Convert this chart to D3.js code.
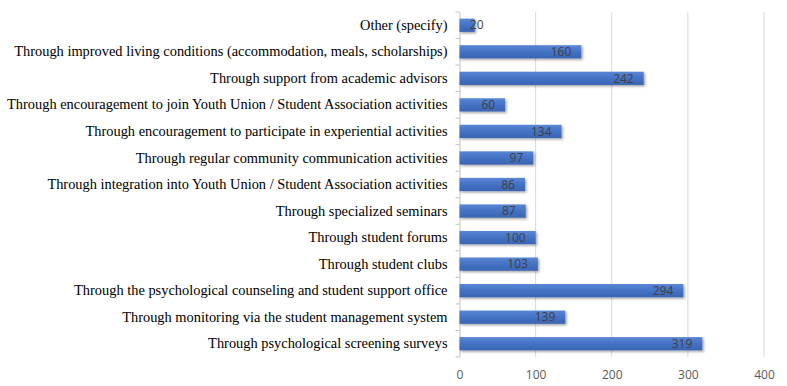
<!DOCTYPE html>
<html>
<head>
<meta charset="utf-8">
<script src="https://cdn.jsdelivr.net/npm/d3@7"></script>
<style>
  body { margin: 0; background: #fff; }
  svg { display: block; }
</style>
</head>
<body>
<div id="chart"></div>
<script>
var categories = [
    "Other (specify)",
    "Through improved living conditions (accommodation, meals, scholarships)",
    "Through support from academic advisors",
    "Through encouragement to join Youth Union / Student Association activities",
    "Through encouragement to participate in experiential activities",
    "Through regular community communication activities",
    "Through integration into Youth Union / Student Association activities",
    "Through specialized seminars",
    "Through student forums",
    "Through student clubs",
    "Through the psychological counseling and student support office",
    "Through monitoring via the student management system",
    "Through psychological screening surveys"
];
var values = [20, 160, 242, 60, 134, 97, 86, 87, 100, 103, 294, 139, 319];
var xTicks = [0, 100, 200, 300, 400];

var width = 787, height = 386;
var margin = { top: 12, right: 23, bottom: 29, left: 459.5 };

var svg = d3.select("#chart").append("svg")
    .attr("width", width)
    .attr("height", height);

var defs = svg.append("defs");
var shadow = defs.append("filter").attr("id", "shadow")
    .attr("x", "-10%").attr("y", "-30%").attr("width", "130%").attr("height", "190%");
shadow.append("feDropShadow")
    .attr("dx", 1.5).attr("dy", 1.5).attr("stdDeviation", 1.2)
    .attr("flood-color", "#000").attr("flood-opacity", 0.35);

var grad = defs.append("linearGradient").attr("id", "barGrad")
    .attr("x1", 0).attr("y1", 0).attr("x2", 0).attr("y2", 1);
grad.append("stop").attr("offset", "0%").attr("stop-color", "#5a86d6");
grad.append("stop").attr("offset", "50%").attr("stop-color", "#4472c4");
grad.append("stop").attr("offset", "100%").attr("stop-color", "#3a64b3");

var x = d3.scaleLinear()
    .domain([0, 400])
    .range([margin.left, width - margin.right]);

var y = d3.scaleBand()
    .domain(categories)
    .range([margin.top, height - margin.bottom])
    .paddingInner(0.5)
    .paddingOuter(0.25);

// gridlines
svg.append("g")
    .selectAll("line")
    .data(xTicks.slice(1))
    .join("line")
    .attr("x1", function(d) { return x(d); })
    .attr("x2", function(d) { return x(d); })
    .attr("y1", margin.top)
    .attr("y2", height - margin.bottom)
    .attr("stroke", "#d9d9d9")
    .attr("stroke-width", 1);

// category axis
var yAxis = svg.append("g")
    .attr("transform", "translate(" + margin.left + ",0)")
    .call(d3.axisLeft(y).tickSize(0).tickPadding(12));
yAxis.select(".domain").attr("stroke", "#bfbfbf");
yAxis.selectAll("text")
    .attr("font-family", "'Liberation Serif', 'Times New Roman', serif")
    .attr("font-size", "14.4px")
    .attr("fill", "#000");

// small ticks between categories
var step = y.step();
svg.append("g")
    .selectAll("line")
    .data(d3.range(categories.length + 1))
    .join("line")
    .attr("x1", margin.left - 4)
    .attr("x2", margin.left)
    .attr("y1", function(i) { return y(categories[0]) - y.step() * y.paddingInner() / 2 + i * step; })
    .attr("y2", function(i) { return y(categories[0]) - y.step() * y.paddingInner() / 2 + i * step; })
    .attr("stroke", "#bfbfbf");

// value axis labels
var xAxis = svg.append("g")
    .attr("transform", "translate(0," + (height - margin.bottom) + ")")
    .call(d3.axisBottom(x).tickValues(xTicks).tickSize(0).tickPadding(13));
xAxis.select(".domain").remove();
xAxis.selectAll("text")
    .attr("font-family", "'Open Sans', sans-serif")
    .attr("font-size", "12px")
    .attr("fill", "#595959");

// bars
svg.append("g")
    .selectAll("rect")
    .data(values)
    .join("rect")
    .attr("x", x(0))
    .attr("y", function(d, i) { return y(categories[i]); })
    .attr("width", function(d) { return x(d) - x(0); })
    .attr("height", y.bandwidth())
    .attr("fill", "url(#barGrad)")
    .attr("filter", "url(#shadow)");

// value labels
svg.append("g")
    .selectAll("text")
    .data(values)
    .join("text")
    .attr("x", function(d) { return Math.max(x(d) - 10, x(0) + 24); })
    .attr("y", function(d, i) { return y(categories[i]) + y.bandwidth() / 2; })
    .attr("dy", "0.35em")
    .attr("text-anchor", "end")
    .attr("font-family", "'Open Sans', sans-serif")
    .attr("font-size", "12px")
    .attr("fill", "#404040")
    .text(function(d) { return d; });
</script>
</body>
</html>
